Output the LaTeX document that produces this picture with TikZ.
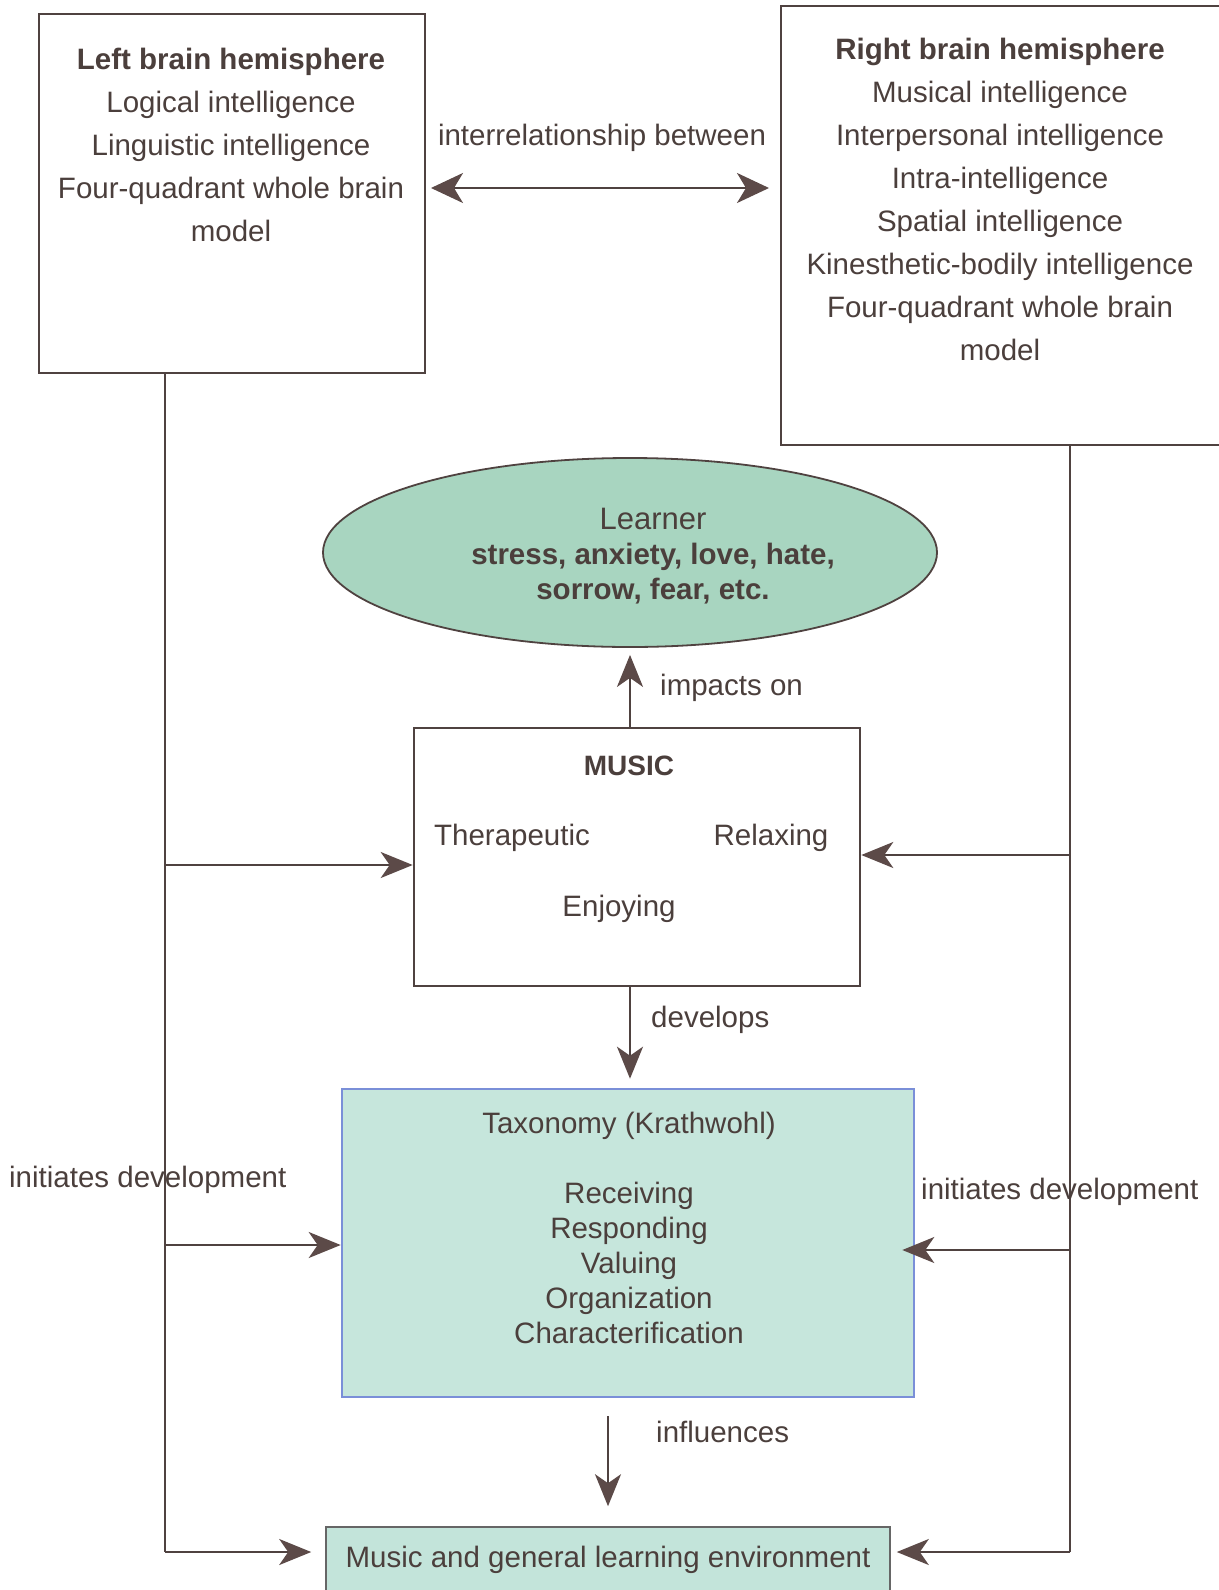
\documentclass[tikz,border=0pt]{standalone}
\usepackage{fontspec}
\setmainfont{Liberation Sans}
\usetikzlibrary{arrows.meta,shapes.geometric,calc}
\definecolor{ink}{HTML}{4B3F3C}
\definecolor{lineclr}{HTML}{4F4240}
\definecolor{tipclr}{HTML}{5C4A48}
\definecolor{ellfill}{HTML}{A8D5C0}
\definecolor{taxfill}{HTML}{C6E6DC}
\definecolor{taxborder}{HTML}{7A8FD8}
\definecolor{envfill}{HTML}{C3E4DA}
\tikzset{
  txt/.style={text=ink, font=\fontsize{29.5}{43}\selectfont, align=center, inner sep=0pt},
  tighttxt/.style={text=ink, font=\fontsize{29.5}{35}\selectfont, align=center, inner sep=0pt},
  whitebox/.style={draw=lineclr, line width=2.6pt, fill=white, rectangle, inner sep=0pt},
  conn/.style={draw=lineclr, line width=2.2pt},
  arr/.style={conn, -{Stealth[length=32pt,width=26pt,inset=9pt,fill=tipclr,color=tipclr]}},
  darr/.style={conn, {Stealth[length=32pt,width=30pt,inset=9pt,fill=tipclr,color=tipclr]}-{Stealth[length=32pt,width=30pt,inset=9pt,fill=tipclr,color=tipclr]}},
}
\begin{document}
\begin{tikzpicture}[x=1pt,y=-1pt]
\useasboundingbox (0,0) rectangle (1218,1590);
\fill[white] (0,0) rectangle (1218,1590);

% left box
\node[whitebox, minimum width=386pt, minimum height=359pt] (lbox) at (232,193.5) {};
\node[txt] (ltext) at (231,145) {\textbf{Left brain hemisphere}\\Logical intelligence\\Linguistic intelligence\\Four-quadrant whole brain\\model};

% right box
\node[whitebox, minimum width=444pt, minimum height=439pt] (rbox) at (1003,225.5) {};
\node[txt] (rtext) at (1000,199) {\textbf{Right brain hemisphere}\\Musical intelligence\\Interpersonal intelligence\\Intra-intelligence\\Spatial intelligence\\Kinesthetic-bodily intelligence\\Four-quadrant whole brain\\model};

% interrelationship
\coordinate (dl) at (431,188);
\coordinate (dr) at (769,188);
\draw[darr] (dl) -- (dr);
\node[txt] (inter) at (602,138) {interrelationship between};

% learner ellipse
\node[ellipse, draw=lineclr, line width=1.8pt, fill=ellfill, minimum width=614pt, minimum height=189pt, inner sep=0pt] (learner) at (630,552.5) {};
\node[tighttxt] (ltxt) at (653,556) {{\fontsize{31}{35}\selectfont Learner}\\\textbf{stress, anxiety, love, hate,}\\\textbf{sorrow, fear, etc.}};

% music box
\node[whitebox, minimum width=446pt, minimum height=258pt] (music) at (637,857) {};
\node[txt, font=\bfseries\fontsize{28}{34}\selectfont] (musict) at (629,766) {MUSIC};
\node[txt] (thera) at (512,838) {Therapeutic};
\node[txt] (relax) at (771,838) {Relaxing};
\node[txt] (enjoy) at (619,909) {Enjoying};

% impacts on
\draw[arr, shorten >=7pt] (music.north -| 630,0) -- (learner.south -| 630,0);
\node[txt, anchor=west] (impacts) at (660,688) {impacts on};

% taxonomy box
\node[draw=taxborder, line width=2.6pt, fill=taxfill, minimum width=572pt, minimum height=308pt, inner sep=0pt] (tax) at (628,1243) {};
\node[tighttxt] (taxt) at (629,1228) {Taxonomy (Krathwohl)\\[35pt]Receiving\\Responding\\Valuing\\Organization\\Characterification};

% develops
\draw[arr, shorten >=9pt] (music.south -| 630,0) -- (tax.north -| 630,0);
\node[txt, anchor=west] (develops) at (651,1020) {develops};

% environment box
\node[draw=gray!80!black, line width=1.6pt, fill=envfill, minimum width=564pt, minimum height=90pt, inner sep=0pt] (env) at (608,1572) {};
\node[txt] (envt) at (608,1560) {Music and general learning environment};

% influences
\draw[arr, shorten <=18pt, shorten >=20pt] (tax.south -| 608,0) -- (env.north -| 608,0);
\node[txt, anchor=west] (influ) at (656,1432) {influences};

% left trunk
\coordinate (lt0) at (lbox.south -| 165,0);
\coordinate (lt1) at (165,865);
\coordinate (lt2) at (165,1245);
\coordinate (lt3) at (165,1552);
\draw[conn] (lt0) -- (lt3);
\draw[arr] (lt1) -- (lt1 -| music.west);
\draw[arr] (lt2) -- (lt2 -| tax.west);
\draw[arr, shorten >=14pt] (lt3) -- (lt3 -| env.west);

% right trunk
\coordinate (rt0) at (rbox.south -| 1070,0);
\coordinate (rt1) at (1070,855);
\coordinate (rt2) at (1070,1250);
\coordinate (rt3) at (1070,1552);
\draw[conn] (rt0) -- (rt3);
\draw[arr] (rt1) -- (rt1 -| music.east);
\draw[arr, shorten >=-13pt] (rt2) -- (rt2 -| tax.east);
\draw[arr, shorten >=6pt] (rt3) -- (rt3 -| env.east);

% initiates labels
\node[txt, anchor=west] (initl) at (9,1180) {initiates development};
\node[txt, anchor=west] (initr) at (921,1192) {initiates development};
\end{tikzpicture}
\end{document}
